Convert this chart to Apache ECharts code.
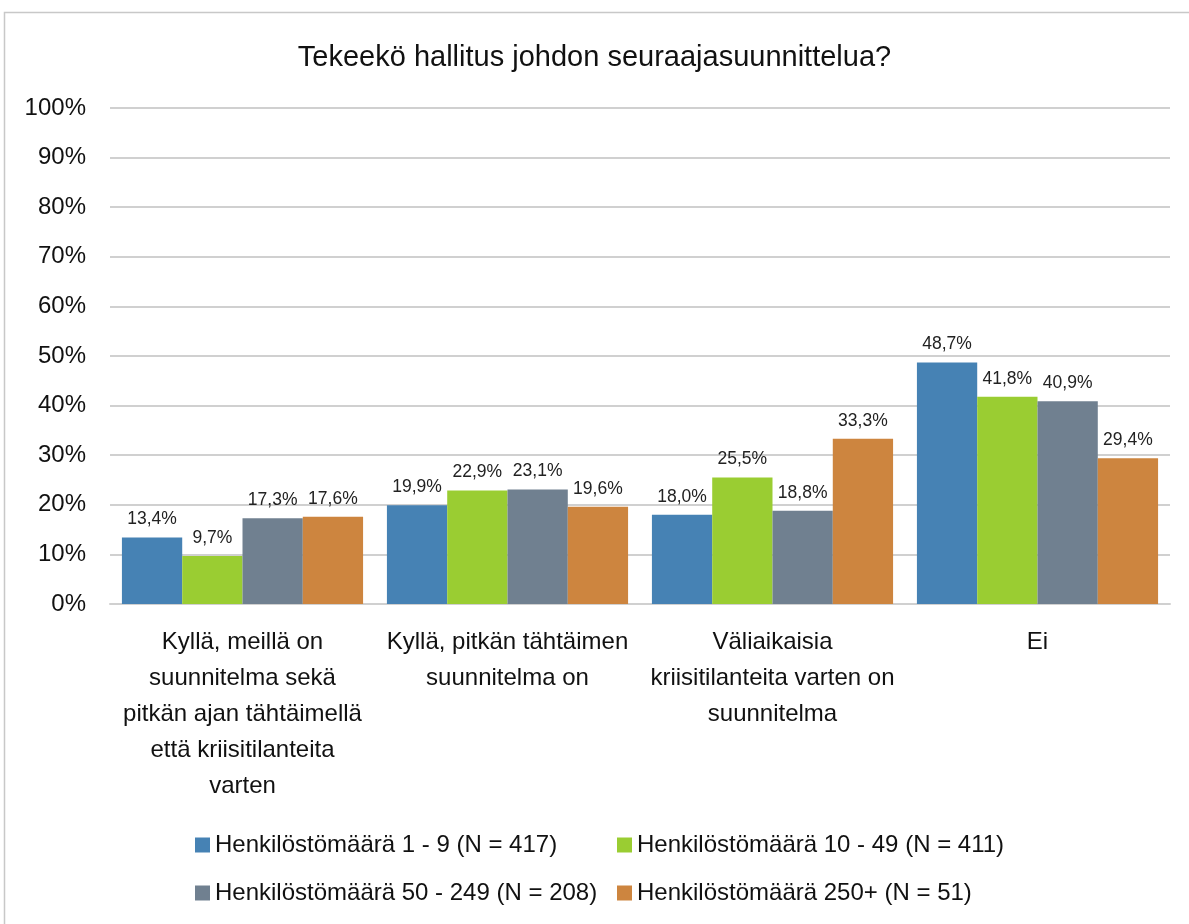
<!DOCTYPE html>
<html>
<head>
<meta charset="utf-8">
<script src="https://cdn.jsdelivr.net/npm/echarts@6/dist/echarts.min.js"></script>
<style>
  html, body { margin: 0; padding: 0; background: #fff; }
  #chart { width: 1189px; height: 924px; }
</style>
</head>
<body>
<div id="chart"></div>
<script>
var categories = [
    'Kyllä, meillä on\nsuunnitelma sekä\npitkän ajan tähtäimellä\nettä kriisitilanteita\nvarten',
    'Kyllä, pitkän tähtäimen\nsuunnitelma on',
    'Väliaikaisia\nkriisitilanteita varten on\nsuunnitelma',
    'Ei'
];
var seriesNames = [
    'Henkilöstömäärä 1 - 9 (N = 417)',
    'Henkilöstömäärä 10 - 49 (N = 411)',
    'Henkilöstömäärä 50 - 249 (N = 208)',
    'Henkilöstömäärä 250+ (N = 51)'
];
var size1to9 = [13.4, 19.9, 18.0, 48.7];
var size10to49 = [9.7, 22.9, 25.5, 41.8];
var size50to249 = [17.3, 23.1, 18.8, 40.9];
var size250plus = [17.6, 19.6, 33.3, 29.4];
var colors = ['#4682b4', '#9acd32', '#708090', '#cd853f'];

var font = '"Liberation Sans", Arial, sans-serif';
var allValues = [size1to9, size10to49, size50to249, size250plus];

var series = allValues.map(function (vals, i) {
    return {
        name: seriesNames[i],
        type: 'bar',
        data: vals,
        barGap: '0%',
        barCategoryGap: '9%',
        itemStyle: { color: colors[i] },
        label: {
            show: true,
            position: 'top',
            distance: 9,
            color: '#222',
            fontFamily: font,
            fontSize: 17.5,
            formatter: function (p) {
                return p.value.toFixed(1).replace('.', ',') + '%';
            }
        }
    };
});

// one legend per item so the two columns line up like in the original
var legendPos = [[190, 828], [612, 828], [190, 876], [612, 876]];
var legends = seriesNames.map(function (n, i) {
    return {
        data: [n],
        left: legendPos[i][0],
        top: legendPos[i][1],
        itemWidth: 15,
        itemHeight: 15,
        itemGap: 6,
        icon: 'rect',
        textStyle: { fontFamily: font, fontSize: 24, color: '#111', padding: [0, 0, 0, 0] }
    };
});

var option = {
    animation: false,
    title: {
        text: 'Tekeekö hallitus johdon seuraajasuunnittelua?',
        left: 'center',
        top: 38,
        textStyle: { fontFamily: font, fontWeight: 'normal', fontSize: 29, color: '#111' }
    },
    legend: legends,
    grid: { left: 110, right: 19, top: 108, bottom: 320 },
    xAxis: {
        type: 'category',
        data: categories,
        axisTick: { show: false },
        axisLine: { lineStyle: { color: '#d0d0d0', width: 2 } },
        axisLabel: {
            interval: 0,
            margin: 20,
            color: '#111',
            fontFamily: font,
            fontSize: 24,
            lineHeight: 36
        }
    },
    yAxis: {
        type: 'value',
        min: 0,
        max: 100,
        interval: 10,
        axisLine: { show: false },
        axisTick: { show: false },
        splitLine: { lineStyle: { color: '#d0d0d0', width: 2 } },
        axisLabel: {
            margin: 24,
            color: '#111',
            fontFamily: font,
            fontSize: 24,
            formatter: '{value}%'
        }
    },
    graphic: [{
        type: 'rect',
        shape: { x: 4.5, y: 12.5, width: 1200, height: 930 },
        style: { fill: 'none', stroke: '#c8c8c8', lineWidth: 1.5 },
        silent: true,
        z: -1
    }],
    series: series
};

var myChart = echarts.init(document.getElementById('chart'));
myChart.setOption(option);
</script>
</body>
</html>
